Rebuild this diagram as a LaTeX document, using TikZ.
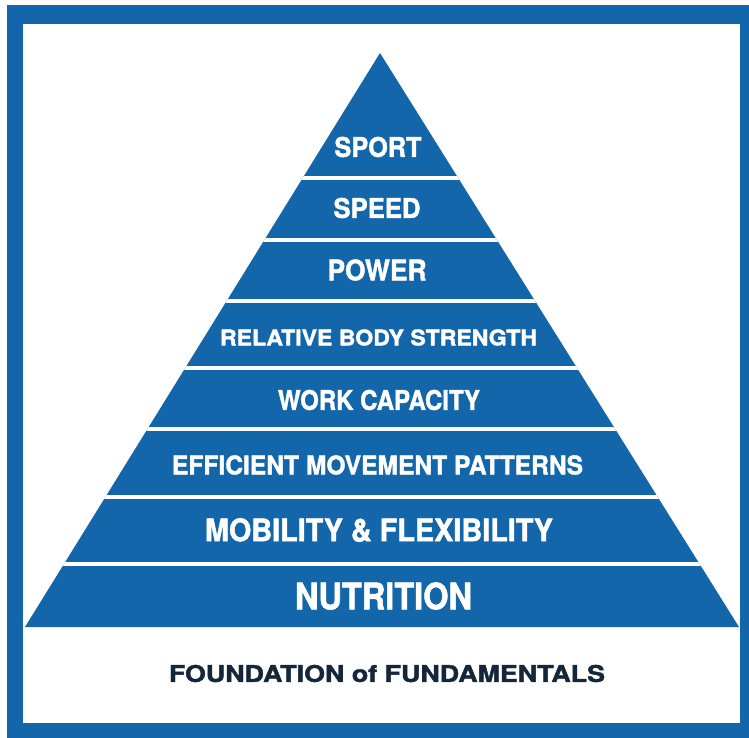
\documentclass[tikz,border=0pt]{standalone}
\usepackage{fontspec}
\setmainfont{TeX Gyre Heros}[BoldFeatures={FakeBold=1.6}]
\usepackage{graphicx}
\definecolor{pyrblue}{HTML}{1466AA}
\definecolor{navytxt}{HTML}{14263A}
\newcommand\pyrlbl[3]{\resizebox{#1pt}{#2pt}{\bfseries #3}}
\tikzset{
  lbl/.style={inner sep=0pt, outer sep=0pt, text=white, anchor=center},
  sep/.style={draw=white, line width=3.5pt}
}
\begin{document}
\begin{tikzpicture}[x=1pt,y=-1pt]
\useasboundingbox (0,0) rectangle (749,738);
\fill[white] (0,0) rectangle (749,738);
% frame
\fill[pyrblue] (7,5) rectangle (749,738);
\fill[white] (23,24) rectangle (740,723);
% pyramid
\coordinate (apex) at (380,53);
\coordinate (bl) at (25,627);
\coordinate (br) at (739,627);
\fill[pyrblue] (apex) -- (br) -- (bl) -- cycle;
\begin{scope}
\clip (apex) -- (br) -- (bl) -- cycle;
\foreach \yy in {178,240,301,368,429,497,564} {
  \draw[sep] (0,\yy) -- (749,\yy);
}
\end{scope}
% labels
\node[lbl] (sport) at (378,147) {\pyrlbl{87}{20}{SPORT}};
\node[lbl] (speed) at (377,208) {\pyrlbl{87}{20}{SPEED}};
\node[lbl] (power) at (377,270) {\pyrlbl{99}{21}{POWER}};
\node[lbl] (rbs) at (378.5,337.5) {\pyrlbl{317}{16}{RELATIVE BODY STRENGTH}};
\node[lbl] (wc) at (379,400) {\pyrlbl{202}{20}{WORK CAPACITY}};
\node[lbl] (emp) at (377.5,465) {\pyrlbl{411}{19}{EFFICIENT MOVEMENT PATTERNS}};
\node[lbl] (mf) at (379,530) {\pyrlbl{348}{23}{MOBILITY \& FLEXIBILITY}};
\node[lbl] (nut) at (383.5,596) {\pyrlbl{177}{27}{NUTRITION}};
\node[lbl, text=navytxt] (found) at (387,673.5) {\pyrlbl{436}{17}{FOUNDATION of FUNDAMENTALS}};
\end{tikzpicture}
\end{document}
